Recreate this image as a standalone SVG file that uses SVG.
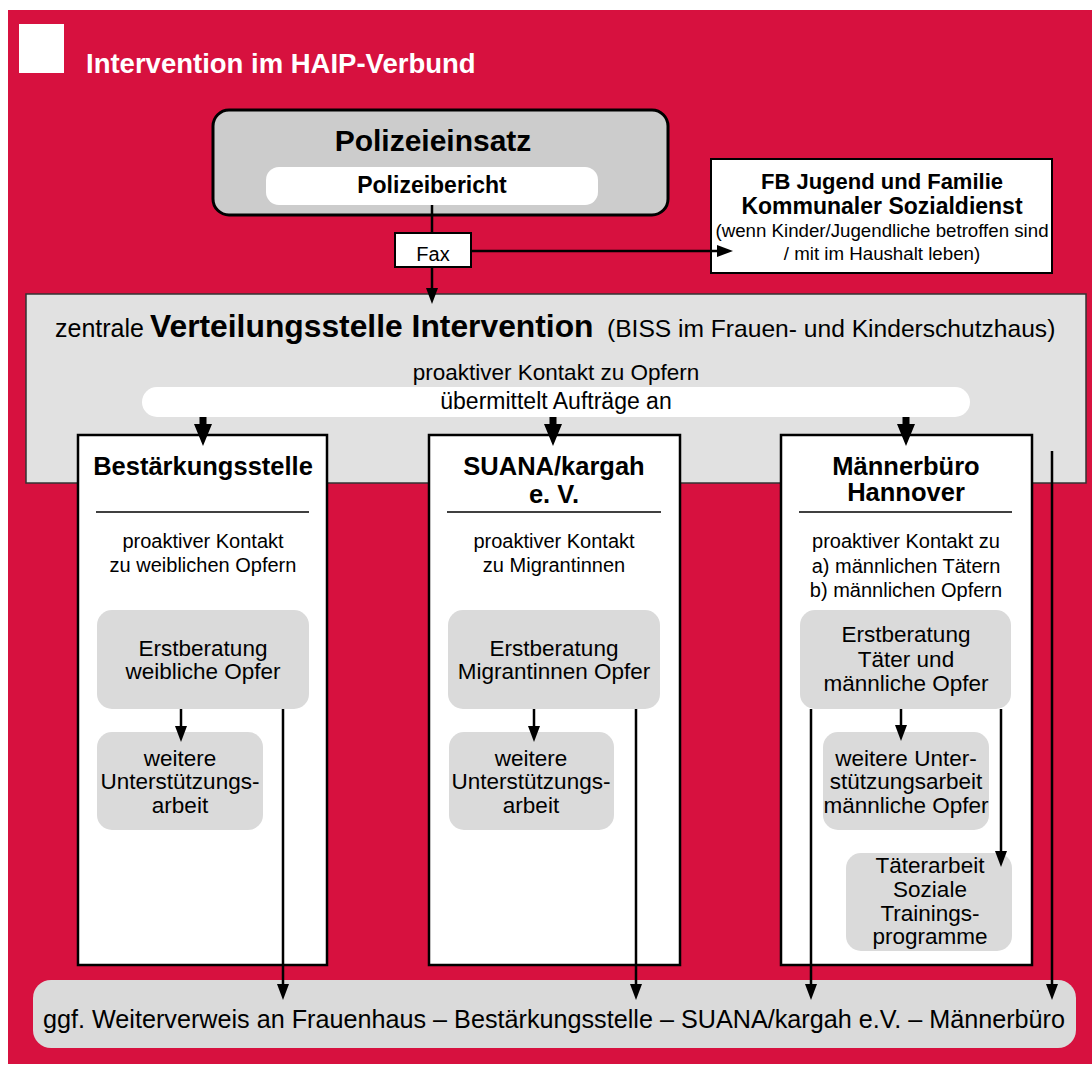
<svg xmlns="http://www.w3.org/2000/svg" width="1092" height="1075" viewBox="0 0 1092 1075">
<style>
text{font-family:"Liberation Sans",Arial,sans-serif;fill:#000}
.b{font-weight:bold}
.c{text-anchor:middle}
.h{font-size:25.5px;font-weight:bold;text-anchor:middle}
.s{font-size:20px;text-anchor:middle}
.i{font-size:22.5px;text-anchor:middle}
.col{fill:#fff;stroke:#000;stroke-width:2.5}
.sep{stroke:#000;stroke-width:1.5}
.in{fill:#dadada}
.ln{stroke:#000;stroke-width:2.5;fill:none}
.ar{marker-end:url(#ah)}
</style>
<defs>
<marker id="ah" markerUnits="userSpaceOnUse" viewBox="0 0 16 12" refX="8" refY="6" markerWidth="16" markerHeight="12" orient="auto">
<path d="M0,0 L16,6 L0,12 z" fill="#000"/>
</marker>
<path id="big" d="M-3.5,0 H3.5 V7 H9 L0,29 L-9,7 H-3.5 z" fill="#000"/>
</defs>
<rect x="0" y="0" width="1092" height="1075" fill="#fff"/>
<rect x="8" y="10" width="1084" height="1054" fill="#d7113f"/>
<g id="title">
<rect x="19" y="24" width="45" height="49" fill="#fff"/>
<text x="86" y="73" class="b" style="font-size:27.5px;fill:#fff">Intervention im HAIP-Verbund</text>
</g>
<g id="polizeieinsatz">
<rect x="213" y="110" width="455" height="105" rx="16" fill="#cccccc" stroke="#000" stroke-width="3"/>
<rect x="266" y="167" width="332" height="38" rx="13" fill="#fff"/>
<text x="433" y="151" class="b c" style="font-size:30px">Polizeieinsatz</text>
<text x="432" y="193" class="b c" style="font-size:23px">Polizeibericht</text>
</g>
<g id="fax">
<rect x="395" y="233" width="76" height="34" fill="#fff" stroke="#000" stroke-width="2"/>
<text x="433" y="261" class="c" style="font-size:20px">Fax</text>
</g>
<g id="jugendamt">
<rect x="711" y="159" width="341" height="114" fill="#fff" stroke="#000" stroke-width="2"/>
<text x="882" y="189" class="b c" style="font-size:22px">FB Jugend und Familie</text>
<text x="882" y="214" class="b c" style="font-size:23px">Kommunaler Sozialdienst</text>
<text x="882" y="237" class="c" style="font-size:18.7px">(wenn Kinder/Jugendliche betroffen sind</text>
<text x="882" y="260" class="c" style="font-size:18.7px">/ mit im Haushalt leben)</text>
</g>
<g id="verteilungsstelle">
<rect x="26" y="294" width="1060" height="189" fill="#e1e1e1" stroke="#333" stroke-width="1.5"/>
<text y="337"><tspan x="55" style="font-size:25px">zentrale</tspan><tspan x="150" class="b" style="font-size:31.8px">Verteilungsstelle Intervention</tspan><tspan x="607" style="font-size:24.6px">(BISS im Frauen- und Kinderschutzhaus)</tspan></text>
<text x="556" y="380" class="c" style="font-size:22.5px">proaktiver Kontakt zu Opfern</text>
<rect x="142" y="387" width="828" height="30" rx="15" fill="#fff"/>
<text x="556" y="409" class="c" style="font-size:23px">übermittelt Aufträge an</text>
</g>
<g id="bestaerkungsstelle">
<rect x="78" y="435" width="249" height="530" class="col"/>
<text x="203" y="475" class="h">Bestärkungsstelle</text>
<line x1="96" y1="512" x2="309" y2="512" class="sep"/>
<text x="203" y="548" class="s">proaktiver Kontakt</text>
<text x="203" y="572" class="s">zu weiblichen Opfern</text>
</g>
<g id="best-erstberatung">
<rect x="97" y="610" width="212" height="99" rx="15" class="in"/>
<text x="203" y="656" class="i">Erstberatung</text>
<text x="203" y="679" class="i">weibliche Opfer</text>
</g>
<g id="best-weitere">
<rect x="97" y="732" width="166" height="98" rx="15" class="in"/>
<text x="180" y="766" class="i">weitere</text>
<text x="180" y="789" class="i">Unterstützungs-</text>
<text x="180" y="813" class="i">arbeit</text>
</g>
<g id="suana">
<rect x="429" y="435" width="251" height="530" class="col"/>
<text x="554" y="475" class="h">SUANA/kargah</text>
<text x="554" y="503" class="h">e. V.</text>
<line x1="447" y1="512" x2="661" y2="512" class="sep"/>
<text x="554" y="548" class="s">proaktiver Kontakt</text>
<text x="554" y="572" class="s">zu Migrantinnen</text>
</g>
<g id="suana-erstberatung">
<rect x="448" y="610" width="212" height="99" rx="15" class="in"/>
<text x="554" y="656" class="i">Erstberatung</text>
<text x="554" y="679" class="i">Migrantinnen Opfer</text>
</g>
<g id="suana-weitere">
<rect x="449" y="732" width="165" height="98" rx="15" class="in"/>
<text x="531" y="766" class="i">weitere</text>
<text x="531" y="789" class="i">Unterstützungs-</text>
<text x="531" y="813" class="i">arbeit</text>
</g>
<g id="maennerbuero">
<rect x="781" y="435" width="251" height="530" class="col"/>
<text x="906" y="475" class="h">Männerbüro</text>
<text x="906" y="501" class="h">Hannover</text>
<line x1="799" y1="512" x2="1012" y2="512" class="sep"/>
<text x="906" y="548" class="s">proaktiver Kontakt zu</text>
<text x="906" y="573" class="s">a) männlichen Tätern</text>
<text x="906" y="597" class="s">b) männlichen Opfern</text>
</g>
<g id="maenner-erstberatung">
<rect x="800" y="610" width="211" height="99" rx="15" class="in"/>
<text x="906" y="642" class="i">Erstberatung</text>
<text x="906" y="667" class="i">Täter und</text>
<text x="906" y="691" class="i">männliche Opfer</text>
</g>
<g id="maenner-weitere">
<rect x="823" y="732" width="166" height="98" rx="15" class="in"/>
<text x="906" y="766" class="i">weitere Unter-</text>
<text x="906" y="789" class="i">stützungsarbeit</text>
<text x="906" y="813" class="i">männliche Opfer</text>
</g>
<g id="taeterarbeit">
<rect x="846" y="853" width="166" height="98" rx="15" class="in"/>
<text x="930" y="873" class="i">Täterarbeit</text>
<text x="930" y="897" class="i">Soziale</text>
<text x="930" y="921" class="i">Trainings-</text>
<text x="930" y="944" class="i">programme</text>
</g>
<g id="weiterverweis">
<rect x="33" y="980" width="1043" height="68" rx="18" class="in"/>
<text x="554" y="1028" class="c" style="font-size:25.2px">ggf. Weiterverweis an Frauenhaus – Bestärkungsstelle – SUANA/kargah e.V. – Männerbüro</text>
</g>
<g id="connectors">
<line x1="432" y1="205" x2="432" y2="233" class="ln"/>
<line x1="432" y1="267" x2="432" y2="296" class="ln ar"/>
<line x1="471" y1="251" x2="725" y2="251" class="ln ar"/>
<use href="#big" x="203" y="417"/>
<use href="#big" x="553" y="417"/>
<use href="#big" x="906" y="417"/>
<line x1="181" y1="709" x2="181" y2="734" class="ln ar"/>
<line x1="283" y1="709" x2="283" y2="992" class="ln ar"/>
<line x1="534" y1="709" x2="534" y2="734" class="ln ar"/>
<line x1="636" y1="709" x2="636" y2="992" class="ln ar"/>
<line x1="901" y1="709" x2="901" y2="733" class="ln ar"/>
<line x1="811" y1="709" x2="811" y2="992" class="ln ar"/>
<line x1="1001" y1="709" x2="1001" y2="859" class="ln ar"/>
<line x1="1052" y1="451" x2="1052" y2="992" class="ln ar"/>
</g>
</svg>
